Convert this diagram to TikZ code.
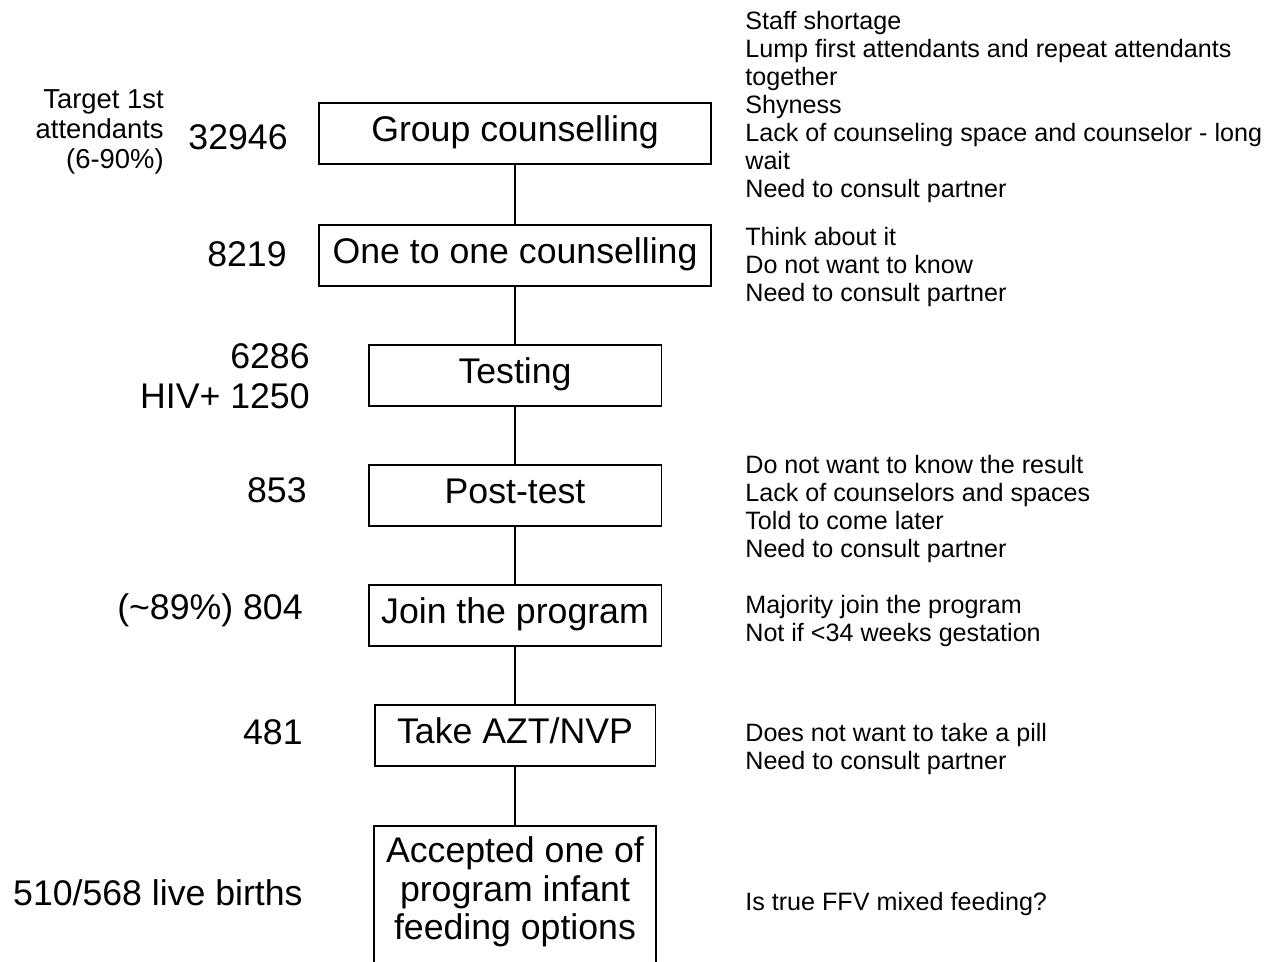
\documentclass[tikz,border=0pt]{standalone}
\usepackage{fontspec}
\setmainfont{Liberation Sans}
\usepackage{tikz}

\begin{document}
\begin{tikzpicture}[x=0.02cm,y=-0.02cm,
	stage/.style={draw,line width=1.1pt,inner sep=0pt,minimum height=1.22cm,text height=13pt,text depth=4pt,font=\fontsize{20.3}{22}\selectfont},
	count/.style={anchor=east,align=right,inner sep=0pt,font=\fontsize{20.3}{22.7}\selectfont},
	note/.style={anchor=west,align=left,inner sep=0pt,font=\fontsize{14.3}{15.9}\selectfont}]
	\useasboundingbox (0,0) rectangle (1266,961);
	% stages
	\node[stage,minimum width=7.84cm] (group) at (515,133.5) {Group counselling};
	\node[stage,minimum width=7.84cm] (onetoone) at (515,255.5) {One to one counselling};
	\node[stage,minimum width=5.86cm] (testing) at (515,375.5) {Testing};
	\node[stage,minimum width=5.86cm] (posttest) at (515,495.5) {Post-test};
	\node[stage,minimum width=5.86cm] (join) at (515,615.5) {Join the program};
	\node[stage,minimum width=5.62cm] (take) at (515,735.5) {Take AZT/NVP};
	\node[stage,minimum width=5.64cm,minimum height=3cm,anchor=north] (accepted) at (515,825) {};
	\node[align=center,inner sep=0pt,font=\fontsize{20.3}{21.8}\selectfont] (acceptedtext) at (515,892) {Accepted one of\\program infant\\feeding options};
	\draw[line width=1.1pt] (group) -- (onetoone);
	\draw[line width=1.1pt] (onetoone) -- (testing);
	\draw[line width=1.1pt] (testing) -- (posttest);
	\draw[line width=1.1pt] (posttest) -- (join);
	\draw[line width=1.1pt] (join) -- (take);
	\draw[line width=1.1pt] (take) -- (accepted);
	% numbers
	\node[count,font=\fontsize{15.6}{17.2}\selectfont] (target) at (164,132) {Target 1st\\attendants\\(6-90\%)};
	\node[count] (n1) at (288,137) {32946};
	\node[count] (n2) at (287,254) {8219};
	\node[count] (n3) at (310,376) {6286\\HIV+ 1250};
	\node[count] (n4) at (307,490) {853};
	\node[count] (n5) at (303,610) {(\textasciitilde89\%) 804};
	\node[count] (n6) at (303,732) {481};
	\node[count] (n7) at (303,893) {510/568 live births};
	% reasons
	\node[note] (r1) at (745,107) {Staff shortage\\Lump first attendants and repeat attendants\\together\\Shyness\\Lack of counseling space and counselor - long\\wait\\Need to consult partner};
	\node[note] (r2) at (745,267) {Think about it\\Do not want to know\\Need to consult partner};
	\node[note] (r4) at (745,509) {Do not want to know the result\\Lack of counselors and spaces\\Told to come later\\Need to consult partner};
	\node[note] (r5) at (745,621) {Majority join the program\\Not if <34 weeks gestation};
	\node[note] (r6) at (745,749) {Does not want to take a pill\\Need to consult partner};
	\node[note] (r7) at (745,904) {Is true FFV mixed feeding?};
\end{tikzpicture}
\end{document}
